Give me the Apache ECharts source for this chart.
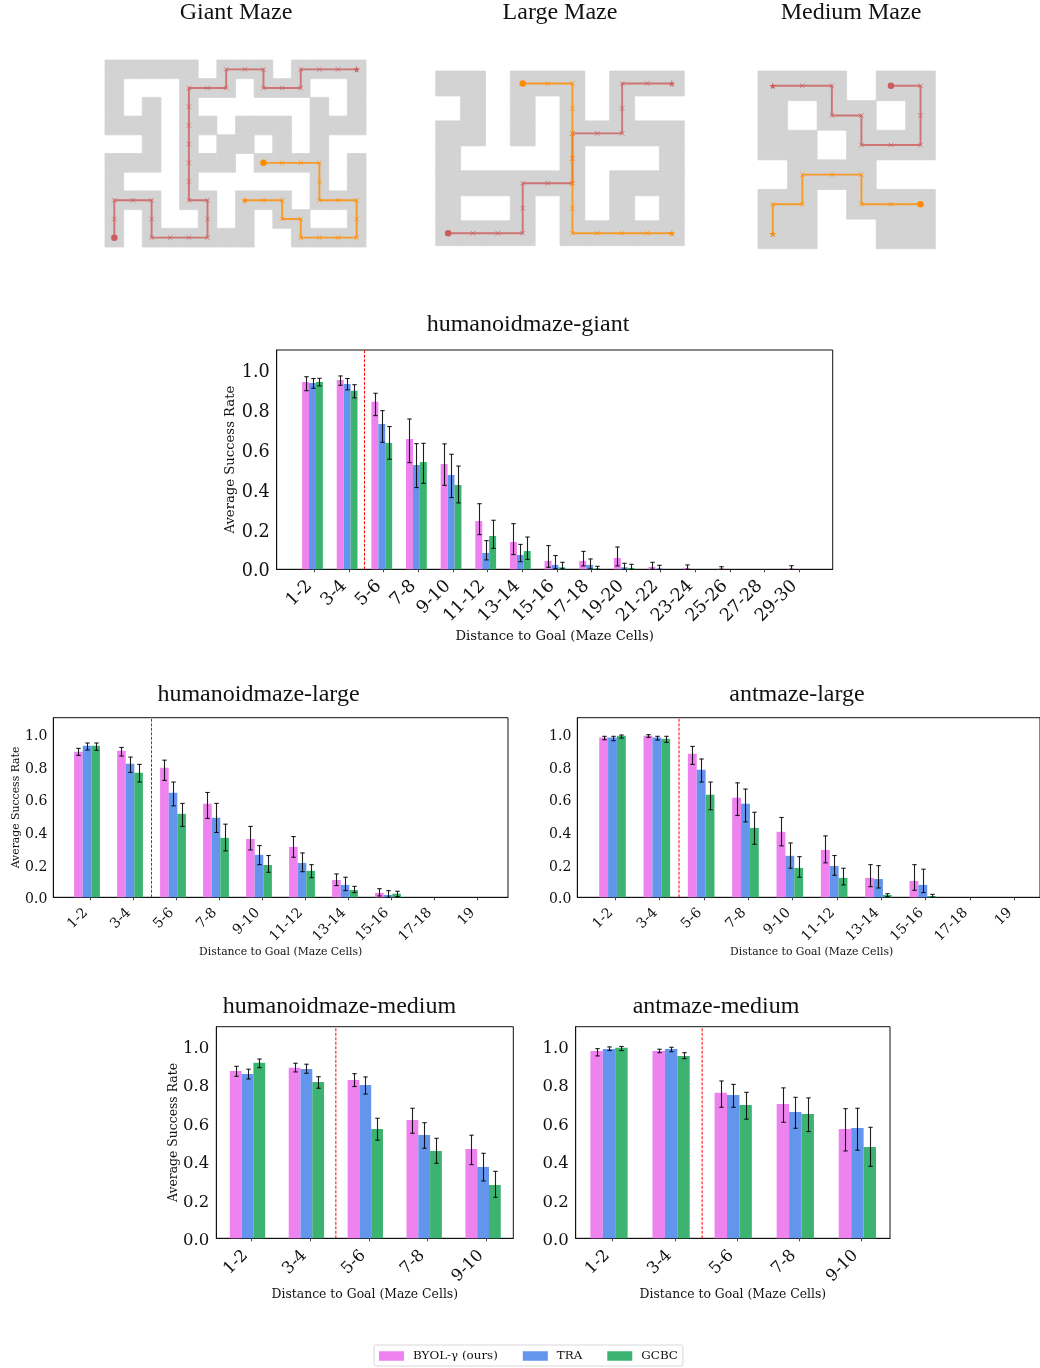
<!DOCTYPE html>
<html><head><meta charset="utf-8">
<style>html,body{margin:0;padding:0;background:#fff;overflow:hidden}#c{width:1040px;height:1368px}</style>
<script src="https://cdn.jsdelivr.net/npm/echarts@6/dist/echarts.min.js"></script>
</head><body><div id="c"></div>
<script>
// ---------- maze layouts ----------
const giantMaze = [
 "#####.###.####","#...###.###..#","#.#.#......#.#","###.##.###.###","..#.#.##.#.#..",
 "###.###.####.#","#...#......#.#","###.##.###.###","#.#..#.#.##..#","#.######..####"];
const largeMaze = ["##.###.###",".#.#.#.#..","##.#.#####","#....#...#","######.###","#..#.#.#.#","####.#####"];
const mediumMaze = ["###.##","#.##.#","##.###",".###..","##.###","##..##"];
const giantRedPath = [[0,9],[0,8],[0,7],[1,7],[2,7],[2,8],[2,9],[3,9],[4,9],[5,9],[5,8],[5,7],[4,7],[4,6],[4,5],[4,4],[4,3],[4,2],[4,1],[5,1],[6,1],[6,0],[7,0],[8,0],[8,1],[9,1],[10,1],[10,0],[11,0],[12,0],[13,0]];
const giantOrangePath = [[8,5],[9,5],[10,5],[11,5],[11,6],[11,7],[12,7],[13,7],[13,8],[13,9],[12,9],[11,9],[10,9],[10,8],[9,8],[9,7],[8,7],[7,7]];
const largeRedPath = [[0,6],[1,6],[2,6],[3,6],[3,5],[3,4],[4,4],[5,4],[5,3],[5,2],[6,2],[7,2],[7,1],[7,0],[8,0],[9,0]];
const largeOrangePath = [[3,0],[4,0],[5,0],[5,1],[5,2],[5,3],[5,4],[5,5],[5,6],[6,6],[7,6],[8,6],[9,6]];
const mediumRedPath = [[4,0],[5,0],[5,1],[5,2],[4,2],[3,2],[3,1],[2,1],[2,0],[1,0],[0,0]];
const mediumOrangePath = [[5,4],[4,4],[3,4],[3,3],[2,3],[1,3],[1,4],[0,4],[0,5]];

// ---------- shared labels ----------
const seriesNames = ["BYOL-γ (ours)","TRA","GCBC"];
const seriesColors = ["#ee82ee","#6495ed","#3cb371"];
const yTicks = [0,0.2,0.4,0.6,0.8,1.0];

// ---------- humanoidmaze-giant ----------
const giantCats = ["1-2","3-4","5-6","7-8","9-10","11-12","13-14","15-16","17-18","19-20","21-22","23-24","25-26","27-28","29-30"];
const giantByol = [.94,.95,.84,.654,.528,.242,.137,.042,.042,.057,.012,.007,.003,0,.003];
const giantByolLo = [.896,.923,.771,.535,.421,.174,.074,.01,.017,.017,0,0,0,0,0];
const giantByolHi = [.966,.97,.883,.754,.629,.329,.229,.119,.09,.112,.035,.022,.013,0,.018];
const giantTra = [.935,.93,.729,.523,.473,.082,.072,.022,.022,.01,.003,0,0,0,0];
const giantTraLo = [.908,.90,.637,.41,.36,.047,.038,.003,.003,0,0,0,0,0,0];
const giantTraHi = [.957,.957,.796,.63,.577,.144,.125,.069,.052,.03,.02,0,0,0,0];
const giantGcbc = [.94,.895,.634,.538,.423,.167,.092,.01,.003,.007,0,0,0,0,0];
const giantGcbcLo = [.92,.86,.552,.431,.333,.105,.05,.003,0,0,0,0,0,0,0];
const giantGcbcHi = [.958,.926,.716,.632,.518,.246,.162,.035,.015,.025,0,0,0,0,0];

// ---------- humanoidmaze-large ----------
const largeCats = ["1-2","3-4","5-6","7-8","9-10","11-12","13-14","15-16","17-18","19"];
const hlByol = [.892,.898,.793,.573,.358,.309,.106,.027,0,0];
const hlByolLo = [.869,.865,.716,.483,.29,.245,.072,.008,0,0];
const hlByolHi = [.912,.918,.84,.642,.434,.372,.143,.053,0,0];
const hlTra = [.928,.818,.64,.487,.26,.21,.076,.014,0,0];
const hlTraLo = [.902,.765,.56,.397,.2,.157,.041,0,0,0];
const hlTraHi = [.945,.859,.706,.575,.317,.272,.123,.041,0,0];
const hlGcbc = [.928,.763,.511,.364,.198,.162,.045,.022,0,0];
const hlGcbcLo = [.90,.706,.434,.284,.153,.12,.029,.004,0,0];
const hlGcbcHi = [.945,.814,.575,.448,.256,.20,.067,.037,0,0];

// ---------- antmaze-large ----------
const alByol = [.978,.99,.879,.609,.401,.29,.119,.10,0,0];
const alByolLo = [.965,.98,.814,.501,.315,.211,.065,.043,0,0];
const alByolHi = [.986,.996,.924,.701,.489,.376,.20,.20,0,0];
const alTra = [.978,.978,.781,.573,.254,.192,.112,.076,0,0];
const alTraLo = [.959,.963,.706,.462,.178,.135,.057,.029,0,0];
const alTraHi = [.986,.986,.847,.663,.333,.256,.194,.172,0,0];
const alGcbc = [.99,.971,.628,.425,.18,.119,.014,.008,0,0];
const alGcbcLo = [.975,.949,.536,.325,.123,.076,.004,0,0,0];
const alGcbcHi = [.994,.986,.706,.521,.249,.178,.022,.018,0,0];

// ---------- humanoidmaze-medium ----------
const mediumCats = ["1-2","3-4","5-6","7-8","9-10"];
const hmByol = [.87,.886,.823,.615,.464];
const hmByolLo = [.842,.865,.789,.546,.383];
const hmByolHi = [.894,.91,.856,.676,.536];
const hmTra = [.854,.88,.797,.537,.371];
const hmTraLo = [.828,.858,.75,.468,.298];
const hmTraHi = [.879,.905,.839,.601,.442];
const hmGcbc = [.912,.813,.568,.454,.277];
const hmGcbcLo = [.887,.78,.51,.39,.213];
const hmGcbcHi = [.932,.84,.624,.52,.348];

// ---------- antmaze-medium ----------
const amByol = [.974,.974,.756,.698,.568];
const amByolLo = [.948,.965,.681,.603,.454];
const amByolHi = [.986,.983,.818,.782,.674];
const amTra = [.984,.984,.745,.657,.574];
const amTraLo = [.976,.97,.681,.572,.458];
const amTraHi = [.995,.993,.80,.733,.676];
const amGcbc = [.99,.948,.693,.646,.475];
const amGcbcLo = [.976,.934,.619,.555,.374];
const amGcbcHi = [.997,.965,.759,.73,.577];

const serif = "DejaVu Serif";
const titleFont = "Liberation Serif";
const starSymbol = "path://M50 0L61.2 34.5L97.6 34.5L68.2 55.9L79.4 90.5L50 69.1L20.6 90.5L31.8 55.9L2.4 34.5L38.8 34.5Z";
const crossSymbol = "path://M0 0L10 10M10 0L0 10";
const option = {animation:false, backgroundColor:"#fff", grid:[], xAxis:[], yAxis:[], series:[], title:[],
  legend:{left:374, top:1345, padding:[5,5,4,5], itemGap:25, itemWidth:25, itemHeight:9.5, icon:"rect",
    data:seriesNames, borderColor:"#d8d8d8", borderWidth:1, borderRadius:2, backgroundColor:"#fff",
    textStyle:{fontFamily:serif, fontSize:11.9, color:"#111", padding:[0,0,0,4]}}};

function addTitle(text, cx, cy){
  option.title.push({text, left:cx, top:cy-12, textAlign:"center", padding:0,
    textStyle:{fontFamily:titleFont, fontSize:24, fontWeight:"normal", color:"#111", lineHeight:26}});
}
function addMaze(rows, red, orange, L, T, W, H){
  const g = option.grid.length;
  const nCols = rows[0].length, nRows = rows.length;
  option.grid.push({left:L, top:T, width:W, height:H, show:false});
  option.xAxis.push({gridIndex:g, type:"value", min:0, max:nCols, show:false});
  option.yAxis.push({gridIndex:g, type:"value", min:0, max:nRows, inverse:true, show:false});
  const cells = [];
  rows.forEach((r,y)=>{[...r].forEach((ch,x)=>{ if(ch==="#") cells.push([x,y]); });});
  option.series.push({type:"custom", xAxisIndex:g, yAxisIndex:g, silent:true, clip:false, data:cells, encode:{x:0,y:1},
    renderItem(p,api){
      const a=api.coord([api.value(0),api.value(1)]), b=api.coord([api.value(0)+1,api.value(1)+1]);
      return {type:"rect", shape:{x:a[0],y:a[1],width:b[0]-a[0],height:b[1]-a[1]},
        style:{fill:"#d3d3d3",stroke:"#d3d3d3",lineWidth:0.8}};
    }});
  [[red,"#cd5c5c"],[orange,"#ff8c00"]].forEach(([path,col])=>{
    const last = path.length-1;
    option.series.push({type:"line", xAxisIndex:g, yAxisIndex:g, silent:true, showSymbol:true, showAllSymbol:true, z:5,
      lineStyle:{color:col,width:1.9,opacity:0.8},
      data:path.map((c,i)=>{
        const v=[c[0]+0.5,c[1]+0.5];
        if(i===0) return {value:v, symbol:"circle", symbolSize:6.5, itemStyle:{color:col,opacity:1}};
        if(i===last) return {value:v, symbol:starSymbol, symbolSize:7, itemStyle:{color:col,opacity:1}};
        return {value:v, symbol:crossSymbol, symbolSize:4.6, itemStyle:{color:"transparent",borderColor:col,borderWidth:1,opacity:0.7}};
      })});
  });
}
function addBars(p){
  const g = option.grid.length;
  const S=p.S, bar0=p.bar0, tickOff=(p.tick0-bar0)/S;
  const tickVals=p.cats.map((_,i)=>i+tickOff);
  const xmin=(p.L-bar0)/S, xmax=(p.R-bar0)/S;
  option.grid.push({left:p.L, top:p.T, width:p.R-p.L, height:p.B-p.T, show:true, borderColor:"#111", borderWidth:1, backgroundColor:"transparent"});
  option.xAxis.push({gridIndex:g, type:"value", min:xmin, max:xmax, splitLine:{show:false},
    name:"Distance to Goal (Maze Cells)", nameLocation:"middle", nameGap:p.xNameGap, nameMoveOverlap:false,
    nameTextStyle:{fontFamily:serif, fontSize:p.nameSize, color:"#111", padding:[0,0,0,p.namePadLeft||0]},
    axisLine:{show:true,onZero:false,lineStyle:{color:"#111",width:1}},
    axisTick:{show:true,length:3,lineStyle:{color:"#444",width:1},customValues:tickVals},
    axisLabel:{show:true,rotate:45,margin:p.xMargin,padding:[0,p.xPad,0,0],fontFamily:serif,fontSize:p.tickSize,color:"#111",interval:0,hideOverlap:false,customValues:tickVals,
      formatter:v=>p.cats[Math.round(v-tickOff)]}});
  option.yAxis.push({gridIndex:g, type:"value", min:0, max:1.1, splitLine:{show:false},
    name:p.yName?"Average Success Rate":"", nameLocation:"middle", nameGap:p.yNameGap, nameRotate:90, nameMoveOverlap:false,
    nameTextStyle:{fontFamily:serif, fontSize:p.nameSize, color:"#111"},
    axisLine:{show:true,onZero:false,lineStyle:{color:"#111",width:1}},
    axisTick:{show:false,customValues:yTicks},
    axisLabel:{show:true,margin:p.yMargin,customValues:yTicks,
      formatter:v=>"{t|"+v.toFixed(1)+"}",
      rich:{t:{fontFamily:serif,fontSize:p.tickSize,color:"#111",padding:[5,0,0,0]}}}});
  p.vals.forEach((vals,k)=>{
    option.series.push({type:"bar", name:seriesNames[k], xAxisIndex:g, yAxisIndex:g, barWidth:0.2*S, barGap:"0%",
      itemStyle:{color:seriesColors[k]}, silent:true, data:vals.map((v,i)=>[i,v])});
  });
  option.series.push({type:"line", xAxisIndex:g, yAxisIndex:g, silent:true, symbol:"none", z:3,
    lineStyle:{color:"#f00",type:[3,1.5],width:1}, data:[[1.5,0],[1.5,1.1]]});
  p.vals.forEach((vals,k)=>{
    const data=vals.map((v,i)=>[i+(k-1)*0.2,p.lo[k][i],p.hi[k][i]]).filter(d=>d[2]>0);
    option.series.push({type:"custom", xAxisIndex:g, yAxisIndex:g, silent:true, z:4, clip:false, data, encode:{x:0,y:[1,2]},
      renderItem(q,api){
        const a=api.coord([api.value(0),api.value(1)]), b=api.coord([api.value(0),api.value(2)]);
        const x=Math.round(a[0])+0.5, cap=2.2, st={stroke:"#000",lineWidth:1.1,opacity:0.88};
        return {type:"group",children:[
          {type:"line",shape:{x1:x,y1:a[1],x2:x,y2:b[1]},style:st},
          {type:"line",shape:{x1:x-cap,y1:a[1],x2:x+cap,y2:a[1]},style:st},
          {type:"line",shape:{x1:x-cap,y1:b[1],x2:x+cap,y2:b[1]},style:st}]};
      }});
  });
}
addTitle("Giant Maze",236,12); addTitle("Large Maze",560,12); addTitle("Medium Maze",851,12);
addTitle("humanoidmaze-giant",528,324); addTitle("humanoidmaze-large",258.5,694); addTitle("antmaze-large",797,694);
addTitle("humanoidmaze-medium",339.5,1006); addTitle("antmaze-medium",716,1006);
addMaze(giantMaze,giantRedPath,giantOrangePath,105,60,261,187);
addMaze(largeMaze,largeRedPath,largeOrangePath,435.7,71,248.6,174.7);
addMaze(mediumMaze,mediumRedPath,mediumOrangePath,758,71,177.3,177.7);
addBars({cats:giantCats,L:276.7,R:832.7,T:350,B:569.3,S:34.64,tick0:314.3,bar0:312.5,tickSize:17.6,nameSize:13.2,xNameGap:61,xMargin:9,xPad:7,yMargin:7,yName:true,yNameGap:40,
  vals:[giantByol,giantTra,giantGcbc],lo:[giantByolLo,giantTraLo,giantGcbcLo],hi:[giantByolHi,giantTraHi,giantGcbcHi]});
addBars({cats:largeCats,L:53.3,R:508,T:717.7,B:897.3,S:43,tick0:90,bar0:87,tickSize:14,nameSize:10.85,xNameGap:49,xMargin:9,xPad:6,yMargin:6,yName:true,yNameGap:32,
  vals:[hlByol,hlTra,hlGcbc],lo:[hlByolLo,hlTraLo,hlGcbcLo],hi:[hlByolHi,hlTraHi,hlGcbcHi]});
addBars({cats:largeCats,L:577.3,R:1040,T:717.7,B:897.3,S:44.33,tick0:615.3,bar0:612.5,tickSize:14,nameSize:10.85,xNameGap:49,xMargin:9,xPad:6,yMargin:6,yName:false,namePadLeft:6,
  vals:[alByol,alTra,alGcbc],lo:[alByolLo,alTraLo,alGcbcLo],hi:[alByolHi,alTraHi,alGcbcHi]});
addBars({cats:mediumCats,L:216.3,R:513.3,T:1026.7,B:1238.3,S:58.9,tick0:251,bar0:247.5,tickSize:16.5,nameSize:12.4,xNameGap:50,xMargin:9,xPad:8,yMargin:7,yName:true,yNameGap:37,
  vals:[hmByol,hmTra,hmGcbc],lo:[hmByolLo,hmTraLo,hmGcbcLo],hi:[hmByolHi,hmTraHi,hmGcbcHi]});
addBars({cats:mediumCats,L:575.7,R:890,T:1026.7,B:1238.3,S:62.1,tick0:612.7,bar0:609,tickSize:16.5,nameSize:12.4,xNameGap:50,xMargin:9,xPad:8,yMargin:7,yName:false,
  vals:[amByol,amTra,amGcbc],lo:[amByolLo,amTraLo,amGcbcLo],hi:[amByolHi,amTraHi,amGcbcHi]});
const chart = echarts.init(document.getElementById("c"),null,{renderer:"canvas",width:1040,height:1368});
chart.setOption(option);
</script></body></html>
